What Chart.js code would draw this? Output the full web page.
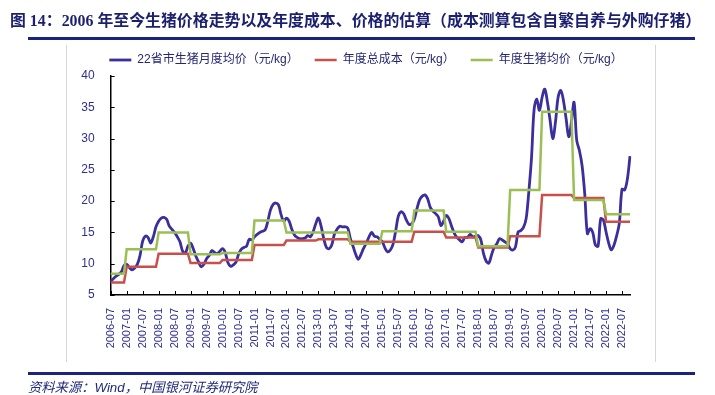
<!DOCTYPE html>
<html lang="zh-CN">
<head>
<meta charset="utf-8">
<title>2006年至今生猪价格走势</title>
<script src="https://cdn.jsdelivr.net/npm/chart.js@4.4.1/dist/chart.umd.min.js"></script>
<style>
    html, body { margin: 0; padding: 0; background: #fff; }
    #page { position: relative; width: 715px; height: 395px; overflow: hidden; background: #fff; }
    #title {
        position: absolute; left: 10px; top: 8px; white-space: nowrap;
        font: bold 15.9px "Liberation Serif", "Noto Sans CJK SC", serif; color: #1b1f6e;
    }
    .rule { position: absolute; left: 28px; width: 667px; height: 3px; background: #1a237e; }
    .frame { position: absolute; top: 45px; height: 317px; width: 1px; background: #d6d6d6; }
    #source {
        position: absolute; left: 28px; top: 377px; white-space: nowrap;
        font: italic 13.3px "Liberation Sans", "Noto Sans CJK SC", sans-serif; color: #1f2a7a;
    }
    #chartBox { position: absolute; left: 0; top: 0; width: 715px; height: 395px; }
</style>
</head>
<body>
<div id="page">
    <div class="frame" style="left:66px"></div>
    <div class="frame" style="left:655px"></div>
    <div id="chartBox"><canvas id="pigChart"></canvas></div>
    <div id="title">图 14：2006 年至今生猪价格走势以及年度成本、价格的估算（成本测算包含自繁自养与外购仔猪）</div>
    <div class="rule" style="top:37px"></div>
    <div class="rule" style="top:372px"></div>
    <div id="source">资料来源：Wind，中国银河证券研究院</div>
</div>
<script>
// Month categories 2006-07 .. 2022-10
const months = [];
for (let y = 2006; y <= 2022; y++) {
    for (let m = 1; m <= 12; m++) {
        if ((y === 2006 && m < 7) || (y === 2022 && m > 10)) continue;
        months.push(y + '-' + String(m).padStart(2, '0'));
    }
}

// 22省市生猪月度均价 (元/kg), one row per year
const monthlyPrice = [
    7.2, 7.6, 8.0, 8.3, 8.7, 9.7,                                  // 2006 (Jul-Dec)
    9.9, 9.4, 9.0, 9.3, 9.9, 11.3, 13.6, 14.4, 14.2, 13.3, 14.3, 15.9, // 2007
    16.8, 17.3, 17.4, 17.1, 16.0, 15.5, 15.0, 14.3, 13.5, 12.0, 11.7, 12.8, // 2008
    13.3, 12.4, 11.2, 10.3, 9.5, 9.9, 10.8, 11.3, 12.1, 11.8, 11.6, 12.0, // 2009
    12.4, 11.8, 10.2, 9.6, 9.8, 10.2, 11.5, 12.3, 12.6, 12.8, 13.9, 13.8, // 2010
    14.3, 14.7, 15.0, 15.2, 15.4, 16.8, 18.6, 19.5, 19.7, 19.4, 17.8, 16.8, // 2011
    17.3, 16.8, 15.5, 14.6, 14.2, 14.0, 14.0, 14.1, 14.5, 14.3, 15.1, 16.4, // 2012
    17.3, 16.0, 14.0, 12.6, 12.4, 13.0, 14.7, 15.5, 16.0, 15.9, 15.9, 15.7, // 2013
    14.0, 12.8, 11.5, 10.7, 11.5, 12.5, 13.3, 14.3, 15.0, 14.4, 14.3, 13.9, // 2014
    13.5, 12.5, 11.9, 12.2, 13.1, 15.2, 17.6, 18.3, 18.0, 17.0, 16.3, 16.4, // 2015
    17.1, 18.8, 20.2, 20.8, 21.0, 20.4, 19.0, 18.4, 18.0, 17.5, 16.1, 16.8, // 2016
    17.7, 17.2, 16.0, 14.9, 14.2, 13.8, 13.5, 14.2, 14.2, 14.7, 14.3, 14.4, // 2017
    14.5, 13.8, 11.6, 10.4, 10.1, 11.4, 12.6, 13.2, 14.0, 13.8, 13.5, 13.2, // 2018
    12.4, 12.2, 12.7, 15.1, 15.3, 15.8, 17.2, 21.5, 26.8, 34.7, 36.3, 34.5, // 2019
    36.6, 37.9, 35.8, 32.9, 30.0, 32.6, 36.6, 37.7, 36.1, 33.2, 30.3, 32.6, // 2020
    35.8, 29.7, 28.1, 25.7, 21.2, 14.8, 15.6, 15.0, 13.0, 12.8, 17.2, 17.0, // 2021
    15.1, 13.3, 12.2, 13.0, 14.5, 16.5, 21.9, 21.8, 23.5, 27.2            // 2022 (Jan-Oct)
];

// Yearly estimates (元/kg)
const years       = [2006, 2007, 2008, 2009, 2010, 2011, 2012, 2013, 2014, 2015, 2016, 2017, 2018, 2019, 2020, 2021, 2022];
const annualCost  = [7.0, 9.5, 11.6, 10.1, 10.6, 13.0, 13.7, 13.9, 13.5, 13.5, 15.1, 14.2, 12.6, 14.4, 21.0, 20.5, 16.7];
const annualPrice = [8.4, 12.3, 15.0, 11.5, 11.7, 16.9, 15.0, 15.0, 13.2, 15.2, 18.5, 15.1, 12.8, 21.8, 34.3, 20.2, 17.9];

const yTicks = [5, 10, 15, 20, 25, 30, 35, 40];

const byYear = (arr) => months.map(m => arr[years.indexOf(Number(m.slice(0, 4)))]);
const isLabelMonth = (m) => m.endsWith('-01') || m.endsWith('-07');

const tickColor = '#2f2f8f';
const fontFamily = "'Liberation Sans', 'Noto Sans CJK SC', sans-serif";

// small inward tick marks like the original
const innerTicks = {
    id: 'innerTicks',
    afterDraw(chart) {
        const { ctx, chartArea, scales: { x, y } } = chart;
        ctx.save();
        ctx.strokeStyle = '#000';
        ctx.lineWidth = 1;
        ctx.beginPath();
        months.forEach((m, i) => {
            if (!isLabelMonth(m)) return;
            const px = Math.round(x.getPixelForValue(i)) + 0.5;
            ctx.moveTo(px, chartArea.bottom);
            ctx.lineTo(px, chartArea.bottom - 4);
        });
        yTicks.forEach(v => {
            const py = Math.round(y.getPixelForValue(v)) + 0.5;
            ctx.moveTo(chartArea.left, py);
            ctx.lineTo(chartArea.left + 4, py);
        });
        ctx.stroke();
        ctx.restore();
    }
};

const ctx = document.getElementById('pigChart').getContext('2d');
new Chart(ctx, {
    type: 'line',
    data: {
        labels: months,
        datasets: [{
            label: '22省市生猪月度均价（元/kg）',
            data: monthlyPrice,
            borderColor: '#3a2f9c',
            backgroundColor: '#3a2f9c',
            borderWidth: 2.8,
            tension: 0.35,
            order: 3
        }, {
            label: '年度总成本（元/kg）',
            data: byYear(annualCost),
            borderColor: '#c8504b',
            backgroundColor: '#c8504b',
            borderWidth: 2.5,
            tension: 0,
            order: 2
        }, {
            label: '年度生猪均价（元/kg）',
            data: byYear(annualPrice),
            borderColor: '#9bbf55',
            backgroundColor: '#9bbf55',
            borderWidth: 2.5,
            tension: 0,
            order: 1
        }]
    },
    options: {
        responsive: true,
        maintainAspectRatio: false,
        animation: false,
        elements: { point: { radius: 0 } },
        layout: { padding: { left: 22, right: 5, top: 38, bottom: 40 } },
        plugins: {
            legend: {
                position: 'top',
                align: 'center',
                labels: {
                    usePointStyle: true,
                    pointStyle: 'line',
                    pointStyleWidth: 22,
                    padding: 16,
                    color: '#262673',
                    font: { size: 12, family: fontFamily },
                    sort: (a, b) => a.datasetIndex - b.datasetIndex
                }
            },
            tooltip: { enabled: false }
        },
        scales: {
            x: {
                grid: { display: false },
                border: { color: '#000', width: 1.5 },
                ticks: {
                    autoSkip: false,
                    minRotation: 90,
                    maxRotation: 90,
                    padding: 5,
                    color: tickColor,
                    font: { size: 11, family: fontFamily },
                    callback: (value, index) => isLabelMonth(months[index]) ? months[index] : ''
                },
                afterFit: (scale) => { scale.height = 60; }
            },
            y: {
                min: 5,
                max: 40,
                grid: { display: false },
                border: { color: '#000', width: 1.5 },
                ticks: {
                    stepSize: 5,
                    padding: 8,
                    color: tickColor,
                    font: { size: 12, family: fontFamily }
                },
                afterFit: (scale) => { scale.width = 88.7; }
            },
            // empty axis that only reserves the right margin
            spacer: {
                position: 'right',
                grid: { display: false },
                border: { display: false },
                ticks: { display: false },
                afterFit: (scale) => { scale.width = 80; }
            }
        }
    },
    plugins: [innerTicks]
});
</script>
</body>
</html>
